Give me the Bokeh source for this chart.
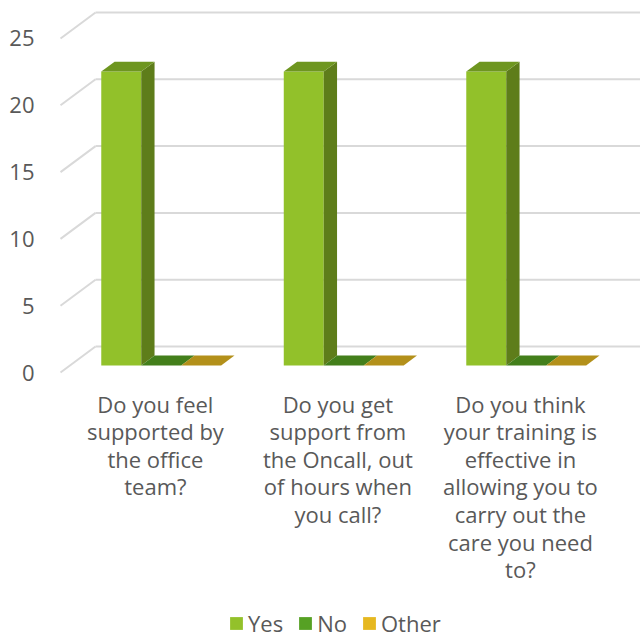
from bokeh.plotting import figure
from bokeh.models import (ColumnDataSource, Range1d, FixedTicker, Legend, LegendItem)
from bokeh.core.properties import value
from bokeh.embed import file_html
from bokeh.resources import INLINE

# ---------------- data ----------------
categories = [
    "Do you feel\nsupported by\nthe office\nteam?",
    "Do you get\nsupport from\nthe Oncall, out\nof hours when\nyou call?",
    "Do you think\nyour training is\neffective in\nallowing you to\ncarry out the\ncare you need\nto?",
]
series = ["Yes", "No", "Other"]
yes = [22, 22, 22]
no = [0, 0, 0]
other = [0, 0, 0]
y_ticks = [0, 5, 10, 15, 20, 25]

# ---------------- style ----------------
FONT = "Open Sans"
TXT = "#595959"
GRID = "#D9D9D9"
FRONT = {"Yes": "#92C12A", "No": "#4E9A22", "Other": "#E0B41E"}
SIDE = {"Yes": "#5E7D1A", "No": "#3A6E17", "Other": "#9C7A12"}
TOP = {"Yes": "#6E9620", "No": "#437F1B", "Other": "#B3901A"}
LEG = {"Yes": "#93C12A", "No": "#56A124", "Other": "#E6B820"}

DX, DY = 0.192, 1.946      # 3-D depth offset (x units, y units)
D0, D1 = 0.27, 0.65        # bar depth span (fraction of depth)
BW = 0.219                 # bar width in category units
LABEL_DX = 0.02
LABEL_Y = -1.2

p = figure(width=640, height=637,
           x_range=Range1d(-0.0548, 3.178), y_range=Range1d(-19.835, 27.844),
           output_backend="svg", toolbar_location=None,
           x_axis_location=None,
           min_border_left=50, min_border_right=0, min_border_top=0, min_border_bottom=0)
p.grid.visible = False
p.outline_line_color = None
p.background_fill_color = "white"
p.border_fill_color = "white"

ax = p.yaxis[0]
ax.ticker = FixedTicker(ticks=y_ticks)
ax.axis_line_color = None
ax.major_tick_line_color = None
ax.minor_tick_line_color = None
ax.major_label_text_font = FONT
ax.major_label_text_font_size = "22px"
ax.major_label_text_color = TXT
ax.major_label_standoff = 10

# gridlines: back wall + left-wall diagonals
ncat = len(categories)
p.segment(x0=[DX] * len(y_ticks), y0=[t + DY for t in y_ticks],
          x1=[ncat + DX + 0.2] * len(y_ticks), y1=[t + DY for t in y_ticks],
          line_color=GRID, line_width=2)
p.segment(x0=[0] * len(y_ticks), y0=y_ticks,
          x1=[DX] * len(y_ticks), y1=[t + DY for t in y_ticks],
          line_color=GRID, line_width=2)

# 3-D bars
vals = {"Yes": yes, "No": no, "Other": other}
for si, s in enumerate(series):
    fx, fy, sx, sy, tx, ty = [], [], [], [], [], []
    for ci in range(ncat):
        v = vals[s][ci]
        x0 = ci + 0.5 + (si - 1.5) * BW
        x1 = x0 + BW
        a0x, a0y = D0 * DX, D0 * DY
        a1x, a1y = D1 * DX, D1 * DY
        fx.append([x0 + a0x, x1 + a0x, x1 + a0x, x0 + a0x])
        fy.append([a0y, a0y, a0y + v, a0y + v])
        sx.append([x1 + a0x, x1 + a1x, x1 + a1x, x1 + a0x])
        sy.append([a0y, a1y, a1y + v, a0y + v])
        tx.append([x0 + a0x, x1 + a0x, x1 + a1x, x0 + a1x])
        ty.append([a0y + v, a0y + v, a1y + v, a1y + v])
    if max(vals[s]) > 0:
        p.patches(fx, fy, fill_color=FRONT[s], line_color=None)
        p.patches(sx, sy, fill_color=SIDE[s], line_color=None)
    p.patches(tx, ty, fill_color=TOP[s], line_color=None)

# category labels
lab = ColumnDataSource(dict(x=[i + 0.5 + LABEL_DX for i in range(ncat)],
                            y=[LABEL_Y] * ncat, t=categories))
p.text(x="x", y="y", text="t", source=lab, text_align="center",
       text_baseline="top", text_font=value(FONT), text_font_size="22px",
       text_color=TXT, text_line_height=0.92)

# legend (swatch-only renderers, nothing visible in the plot area)
nan = float("nan")
items = []
for s in series:
    r = p.quad(left=[nan], right=[nan], top=[nan], bottom=[nan],
               fill_color=LEG[s], line_color=None)
    items.append(LegendItem(label=s, renderers=[r]))
leg = Legend(items=items, orientation="horizontal", location=(178, -1),
             glyph_width=16, glyph_height=16, label_standoff=4, spacing=14,
             padding=0, margin=0, border_line_color=None, background_fill_alpha=0,
             label_text_font=FONT, label_text_font_size="22px", label_text_color=TXT)
p.add_layout(leg, "center")

open("out.html", "w").write(file_html(p, INLINE))
